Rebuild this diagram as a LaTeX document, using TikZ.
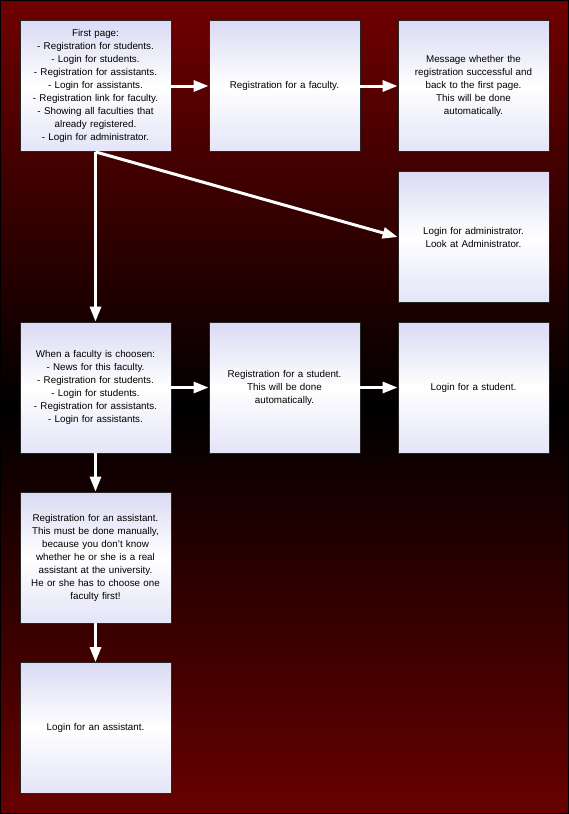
\documentclass[tikz,border=0pt]{standalone}
\usepackage{fontspec}
\setmainfont{Liberation Sans}
\usetikzlibrary{arrows.meta}
\definecolor{bgred}{RGB}{112,0,0}
\definecolor{bgredb}{RGB}{104,0,0}
\definecolor{boxtop}{RGB}{218,218,244}
\definecolor{boxbot}{RGB}{228,228,248}
\begin{document}
\begin{tikzpicture}[x=1pt,y=-1pt,
  box/.style={draw=black!85,line width=0.8pt,minimum width=151pt,minimum height=131pt,
    text width=149pt,align=center,inner sep=0pt,
    top color=boxtop,bottom color=boxbot,middle color=white,
    font=\fontsize{9.8}{13}\selectfont},
  flow/.style={draw=white,line width=3pt,-{Triangle[length=15pt,width=11pt]}}]
\useasboundingbox (0,0) rectangle (569,814);
\shade[top color=bgred,bottom color=bgredb,middle color=black] (0,0) rectangle (569,814);
\draw[black,line width=1pt] (0.5,0.5) rectangle (568.5,813.5);
\node[box] (b1) at (95.5,86) {First page:\\- Registration for students.\\- Login for students.\\- Registration for assistants.\\- Login for assistants.\\- Registration link for faculty.\\- Showing all faculties that\\already registered.\\- Login for administrator.};
\node[box] (b2) at (284.5,86) {Registration for a faculty.};
\node[box] (b3) at (473.5,86) {Message whether the\\registration successful and\\back to the first page.\\This will be done\\automatically.};
\node[box] (adm) at (473.5,237) {Login for administrator.\\Look at Administrator.};
\node[box] (f1) at (95.5,387.5) {When a faculty is choosen:\\- News for this faculty.\\- Registration for students.\\- Login for students.\\- Registration for assistants.\\- Login for assistants.};
\node[box] (f2) at (284.5,387.5) {Registration for a student.\\This will be done\\automatically.};
\node[box] (f3) at (473.5,387.5) {Login for a student.};
\node[box] (a1) at (95.5,557.5) {Registration for an assistant.\\This must be done manually,\\because you don't know\\whether he or she is a real\\assistant at the university.\\He or she has to choose one\\faculty first!};
\node[box] (a2) at (95.5,728) {Login for an assistant.};
\draw[flow] (b1) -- (b2);
\draw[flow] (b2) -- (b3);
\draw[flow] (b1.south) -- (adm.west);
\draw[flow] (b1.south) -- (f1.north);
\draw[flow] (f1) -- (f2);
\draw[flow] (f2) -- (f3);
\draw[flow] (f1) -- (a1);
\draw[flow] (a1) -- (a2);
\end{tikzpicture}
\end{document}
